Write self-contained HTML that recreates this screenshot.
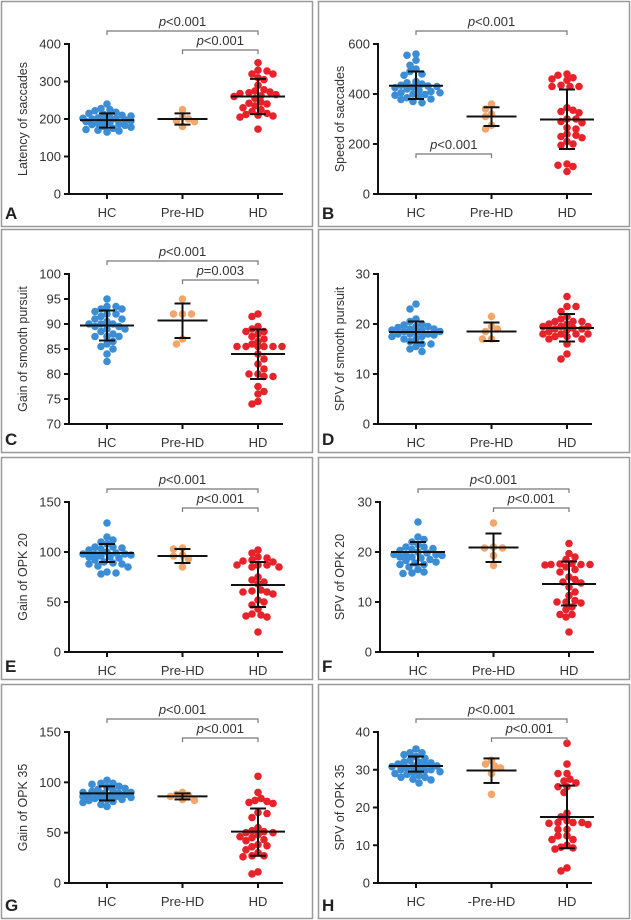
<!DOCTYPE html>
<html><head><meta charset="utf-8"><style>
html,body{margin:0;padding:0;background:#fff;}
svg{display:block;font-family:"Liberation Sans",Arial,sans-serif;}
</style></head><body>
<svg id="fig" width="631" height="920" viewBox="0 0 631 920"></svg>
<script>
const categories=["HC","Pre-HD","HD"];
const A_HC=[240,228,225,222,218,215,212,210,208,205,203,202,200,200,198,196,195,193,190,188,186,185,183,180,178,175,172,170,168,165];
const A_PRE=[225,205,200,195,193,180];
const A_HD=[350,330,328,320,320,310,305,290,278,275,272,270,268,265,262,260,255,245,242,240,235,230,225,220,215,212,210,208,205,173];
const A_STATS=[[197,177,215],[200,185,215],[260,213,307]];
const B_HC=[560,555,535,515,500,490,480,475,450,445,440,435,432,430,428,425,420,415,410,405,405,400,398,395,390,385,380,378,370,365];
const B_PRE=[360,340,320,310,275,260];
const B_HD=[480,475,465,460,455,435,430,430,430,345,335,330,325,300,300,290,285,265,260,240,235,230,225,210,200,195,120,115,110,90];
const B_STATS=[[433,380,490],[310,272,347],[298,180,418]];
const C_HC=[95,93.5,93.5,93,93,92.5,92,92,91.5,91,91,90.5,90,90,90,89.5,89.5,89,89,88.5,88,87.5,87.5,87.5,86.5,86,85.5,85,84,82.5];
const C_PRE=[95,92,92,92,87,86];
const C_HD=[92,91.5,89.5,89,88.5,88.5,88,87.5,87,86.5,86,85.5,85.5,85.5,85.5,85.5,85.5,84,83,82,81,80,80,79.5,79.5,77.5,76.5,76,74.5,74];
const C_STATS=[[89.7,86.7,92.7],[90.7,87.2,94.1],[84,79,88.9]];
const D_HC=[24,23,21,20.5,20,19.8,19.5,19.5,19.3,19,19,18.8,18.7,18.5,18.5,18.3,18,18,18,17.8,17.5,17.5,17,17,16.5,16,16,15.5,15,14.5];
const D_PRE=[21.5,19.5,19,18.5,17,17];
const D_HD=[25.5,23.5,23.5,22.5,21.5,21,20.5,20.5,20.5,20,20,19.5,19.5,19.5,19.2,19,19,18.8,18.5,18,18,18,18,17.5,17.5,17,17,16,14,13];
const D_STATS=[[18.4,16.3,20.5],[18.5,16.6,20.3],[19.2,16.5,22]];
const E_HC=[129,115,112,110,108,105,105,104,103,102,100,99,98,98,98,97,96,95,95,94,92,90,89,88,88,86,85,80,79,78];
const E_PRE=[104,103,97,96,93,85];
const E_HD=[102,99,95,94,92,91,90,87,87,87,85,85,75,72,70,68,62,61,60,60,58,52,50,47,43,38,37,36,35,20];
const E_STATS=[[99,90,108],[96,89,103],[67,45,90]];
const F_HC=[26,23,22.5,22,21.5,21,21,20.7,20.5,20.3,20,19.8,19.5,19.5,19.5,19.3,19,19,18.8,18.5,18.3,18,17.8,17.5,17.5,17,16.5,16,15.8,15.7];
const F_PRE=[25.8,21,20.8,20.8,19.3,17.3];
const F_HD=[21.7,19.7,19,18.5,17.7,17.6,17.5,17.5,17.5,17.4,17,16.5,16,15,14.5,14,13.8,13,12,11.3,10.3,10,10,9.8,9,8.5,7.5,7.5,7,4];
const F_STATS=[[20,17.5,22],[20.9,18,23.7],[13.6,9.3,18.1]];
const G_HC=[102,99,99,98,96,95,94,93,92,91,90,90,89,89,88,88,87,87,86,86,85,85,84,83,83,82,81,80,78,76];
const G_PRE=[90,88,87,86,83,82];
const G_HD=[106,90,84,82,81,80,79,70,69,65,55,52,51,50,50,48,46,45,43,42,38,37,36,33,30,27,27,26,11,9];
const G_STATS=[[89,82,96],[86,83,89],[51,27,74]];
const H_HC=[35.5,34.5,34.5,34,33.5,33,32.5,32,32,31.8,31.5,31.3,31,31,30.8,30.5,30.3,30,30,29.8,29.5,29.3,29,28.8,28.5,28,28,27.5,27.3,26.5];
const H_PRE=[32.5,31.5,31,30.5,29,23.5];
const H_HD=[37,31.5,29,29,27.5,27,26.5,25.5,25.5,24,18.5,17.5,16.5,16,16,16,15.8,15.5,14.2,14.2,12.5,12.5,11.5,11.5,10,9.5,9.3,9,4,3.2];
const H_STATS=[[31,29.5,33.5],[29.8,26.5,33],[17.5,9.2,25.8]];
const A_TICKS=[0,100,200,300,400], B_TICKS=[0,200,400,600], C_TICKS=[70,75,80,85,90,95,100], D_TICKS=[0,10,20,30];
const E_TICKS=[0,50,100,150], F_TICKS=[0,10,20,30], G_TICKS=[0,50,100,150], H_TICKS=[0,10,20,30,40];

const panels=[
 {id:"A",px:1,py:1,pw:311,ph:225,ax:69,y0:194,y1:44,ticks:A_TICKS,data:[A_HC,A_PRE,A_HD],stats:A_STATS,ylab:"Latency of saccades",br:[["p","<0.001",0,2,"top"],["p","<0.001",1,2,"second"]]},
 {id:"B",px:318,py:1,pw:311,ph:225,ax:378,y0:194,y1:44,ticks:B_TICKS,data:[B_HC,B_PRE,B_HD],stats:B_STATS,ylab:"Speed of saccades",br:[["p","<0.001",0,2,"top"],["p","<0.001",0,1,"low"]]},
 {id:"C",px:1,py:229,pw:311,ph:223,ax:69,y0:424,y1:274,ticks:C_TICKS,data:[C_HC,C_PRE,C_HD],stats:C_STATS,ylab:"Gain of smooth pursuit",br:[["p","<0.001",0,2,"top"],["p","=0.003",1,2,"second"]]},
 {id:"D",px:318,py:229,pw:311,ph:223,ax:378,y0:424,y1:274,ticks:D_TICKS,data:[D_HC,D_PRE,D_HD],stats:D_STATS,ylab:"SPV of smooth pursuit",br:[]},
 {id:"E",px:1,py:457,pw:311,ph:222,ax:69,y0:652,y1:502,ticks:E_TICKS,data:[E_HC,E_PRE,E_HD],stats:E_STATS,ylab:"Gain of OPK 20",br:[["p","<0.001",0,2,"top"],["p","<0.001",1,2,"second"]]},
 {id:"F",px:318,py:457,pw:311,ph:222,ax:380,y0:652,y1:502,ticks:F_TICKS,data:[F_HC,F_PRE,F_HD],stats:F_STATS,ylab:"SPV of OPK 20",br:[["p","<0.001",0,2,"top"],["p","<0.001",1,2,"second"]]},
 {id:"G",px:1,py:684,pw:311,ph:234,ax:69,y0:883,y1:732,ticks:G_TICKS,data:[G_HC,G_PRE,G_HD],stats:G_STATS,ylab:"Gain of OPK 35",br:[["p","<0.001",0,2,"top"],["p","<0.001",1,2,"second"]],xl:null},
 {id:"H",px:318,py:684,pw:311,ph:234,ax:378,y0:883,y1:732,ticks:H_TICKS,data:[H_HC,H_PRE,H_HD],stats:H_STATS,ylab:"SPV of OPK 35",br:[["p","<0.001",0,2,"top"],["p","<0.001",1,2,"second"]],xl:["HC","-Pre-HD","HD"]}
];
const colors=["#3b8ed5","#f3a66c","#e8222b"];
const NS="http://www.w3.org/2000/svg";
const svg=document.getElementById("fig");
function mk(tag,attrs,parent,txt){const e=document.createElementNS(NS,tag);for(const k in attrs)e.setAttribute(k,attrs[k]);if(txt!=null)e.textContent=txt;(parent||svg).appendChild(e);return e;}

panels.forEach(p=>{
  const g=mk("g",{});
  
  
  const fr=mk("rect",{x:p.px+0.5,y:p.py+0.5,width:p.pw,height:p.ph,fill:"#fff",stroke:"#999","stroke-width":1.5},g);
  
  
  const tmin=p.ticks[0],tmax=p.ticks[p.ticks.length-1];
  const ys=v=>p.y0-(v-tmin)/(tmax-tmin)*(p.y0-p.y1);
  const gx=i=>p.ax+38+i*75.5;
  const axEnd=p.ax+214;
  const ya=mk("line",{x1:p.ax,y1:p.y1-1,x2:p.ax,y2:p.y0+1,stroke:"#111","stroke-width":2},g);
  
  
  const xa=mk("line",{x1:p.ax-1,y1:p.y0,x2:axEnd,y2:p.y0,stroke:"#111","stroke-width":2},g);
  
  
  p.ticks.forEach(t=>{
    mk("line",{x1:p.ax-5,y1:ys(t),x2:p.ax,y2:ys(t),stroke:"#111","stroke-width":2},g);
    const tl=mk("text",{x:p.ax-8,y:ys(t)+4.5,"text-anchor":"end","font-size":13,fill:"#333"},g,String(t));
    
    
  });
  const labs=p.xl||categories;
  labs.forEach((c,i)=>{
    mk("line",{x1:gx(i),y1:p.y0,x2:gx(i),y2:p.y0+5,stroke:"#111","stroke-width":2},g);
    const xl=mk("text",{x:gx(i),y:p.y0+23,"text-anchor":"middle","font-size":13,fill:"#333"},g,c);
    
    
  });
  const ymid=(p.y0+p.y1)/2;
  const yl=mk("text",{x:0,y:0,transform:`translate(${p.px+26},${ymid}) rotate(-90)`,"text-anchor":"middle","font-size":12.5,fill:"#333"},g,p.ylab);
  
  
  const lt=mk("text",{x:p.px+4,y:p.py+p.ph-7,"font-size":17,"font-weight":"bold",fill:"#222"},g,p.id);
  
  
  p.data.forEach((arr,i)=>{
    const placed=[];const r=3.8,d=6.2,maxOff=26;
    const cands=[0];for(let k=1;k*3<=maxOff;k++){cands.push(k*3,-k*3);}
    arr.forEach((v,idx)=>{
      const y=ys(v);let best=0,bestD=-1;
      for(const cand0 of cands){
        const cand=(idx%2?-cand0:cand0);
        const md=placed.reduce((m,q)=>Math.min(m,Math.hypot(q[0]-cand,q[1]-y)),99);
        if(md>=d){best=cand;bestD=99;break;}
        if(md>bestD){bestD=md;best=cand;}
      }
      placed.push([best,y]);
      const c=mk("circle",{cx:gx(i)+best,cy:y,r:r,fill:colors[i]},g);
      
      
    });
    const s=p.stats[i];const hw=i===1?25:27;
    const ml=mk("line",{x1:gx(i)-hw,y1:ys(s[0]),x2:gx(i)+hw,y2:ys(s[0]),stroke:"#111","stroke-width":2},g);
    
    
    const wl=mk("line",{x1:gx(i),y1:ys(s[1]),x2:gx(i),y2:ys(s[2]),stroke:"#111","stroke-width":2},g);
    
    
    [s[1],s[2]].forEach(v=>mk("line",{x1:gx(i)-8,y1:ys(v),x2:gx(i)+8,y2:ys(v),stroke:"#111","stroke-width":2},g));
  });
  p.br.forEach(b=>{
    let by= b[4]==="top"?p.y1-13:(b[4]==="second"?p.y1+6:p.y0-40);
    const x1=gx(b[2]),x2=gx(b[3]);
    const bl=mk("path",{d:`M${x1},${by+4}V${by}H${x2}V${by+4}`,fill:"none",stroke:"#777","stroke-width":1.2},g);
    
    
    const t=mk("text",{x:(x1+x2)/2,y:by-5,"text-anchor":"middle","font-size":13,fill:"#333"},g);
    
    
    mk("tspan",{"font-style":"italic"},t,b[0]);
    mk("tspan",{},t,b[1]);
  });
});
</script>
</body></html>
